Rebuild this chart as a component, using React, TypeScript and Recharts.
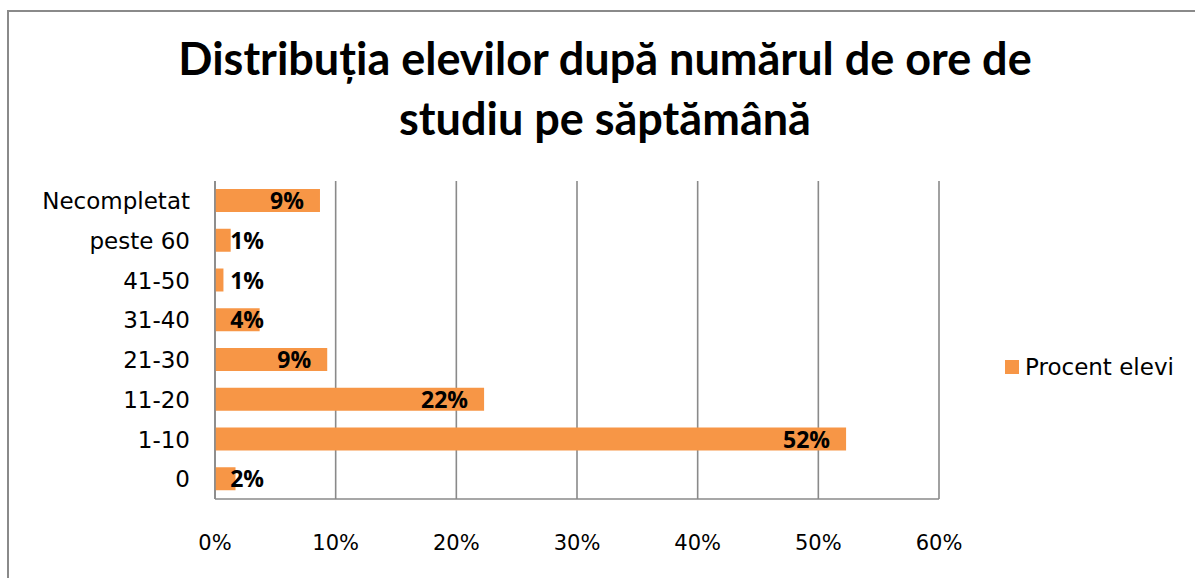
import { BarChart, Bar, XAxis, YAxis, CartesianGrid, LabelList } from "recharts";

const categories = ["Necompletat", "peste 60", "41-50", "31-40", "21-30", "11-20", "1-10", "0"];
const percentValues = [8.7, 1.3, 0.7, 3.7, 9.3, 22.3, 52.3, 1.7];
const labelValues = ["9%", "1%", "1%", "4%", "9%", "22%", "52%", "2%"];
const xTicks = [0, 10, 20, 30, 40, 50, 60];

const titleLines = ["Distribuția elevilor după numărul de ore de", "studiu pe săptămână"];
const seriesName = "Procent elevi";

const data = categories.map((cat, i) => ({ cat, value: percentValues[i], label: labelValues[i] }));

const ORANGE = "#F79646";
const GRID = "#8a8a8a";
const FONT = "'DejaVu Sans', sans-serif";

function BarLabel(props: any) {
  const { x, y, width, height, value } = props;
  // inside-end like Excel, but short bars push the label out
  const right = Math.max(x + width - 16, x + 49);
  return (
    <text
      x={right}
      y={y + height / 2}
      dy="0.37em"
      textAnchor="end"
      fontFamily="'Open Sans', sans-serif"
      fontWeight="bold"
      fontSize={23}
      fill="#000"
    >
      {value}
    </text>
  );
}

export default function App() {
  return (
    <div style={{ position: "absolute", left: 0, top: 0, width: 1195, height: 578, overflow: "hidden", background: "#fff" }}>
      <div
        style={{
          position: "absolute",
          left: 7,
          top: 10,
          width: 1300,
          height: 700,
          borderLeft: `2px solid ${GRID}`,
          borderTop: `2px solid ${GRID}`,
        }}
      />
      <div
        style={{
          position: "absolute",
          left: 105,
          top: 28,
          width: 1000,
          textAlign: "center",
          fontFamily: "Lato, sans-serif",
          fontWeight: "bold",
          fontSize: 45,
          lineHeight: "60px",
          color: "#000",
          whiteSpace: "nowrap",
        }}
      >
        {titleLines.map((t) => (
          <div key={t}>{t}</div>
        ))}
      </div>
      <div style={{ position: "absolute", left: 0, top: 0 }}>
        <BarChart
          width={1195}
          height={578}
          data={data}
          layout="vertical"
          barSize={23}
          margin={{ top: 181, right: 256, bottom: 39, left: 15 }}
        >
          <CartesianGrid horizontal={false} stroke={GRID} strokeWidth={1.6} />
          <XAxis
            type="number"
            domain={[0, 60]}
            ticks={xTicks}
            tickFormatter={(v: number) => `${v}%`}
            height={40}
            tickLine={false}
            tickSize={0}
            tickMargin={36}
            axisLine={{ stroke: GRID, strokeWidth: 1.6 }}
            tick={{ fontFamily: FONT, fontSize: 21, fill: "#000" }}
            interval={0}
          />
          <YAxis
            type="category"
            dataKey="cat"
            width={200}
            tickLine={false}
            tickSize={0}
            tickMargin={25}
            axisLine={{ stroke: GRID, strokeWidth: 1.6 }}
            tick={{ fontFamily: FONT, fontSize: 23, fill: "#000" }}
            interval={0}
          />
          <Bar dataKey="value" name={seriesName} fill={ORANGE} isAnimationActive={false}>
            <LabelList dataKey="label" content={<BarLabel />} />
          </Bar>
        </BarChart>
      </div>
      <div
        style={{
          position: "absolute",
          left: 1005,
          top: 354,
          display: "flex",
          alignItems: "center",
          fontFamily: FONT,
          fontSize: 23,
          color: "#000",
          whiteSpace: "nowrap",
        }}
      >
        <span style={{ width: 14, height: 14, background: ORANGE, display: "inline-block", marginRight: 6 }} />
        <span>{seriesName}</span>
      </div>
    </div>
  );
}
